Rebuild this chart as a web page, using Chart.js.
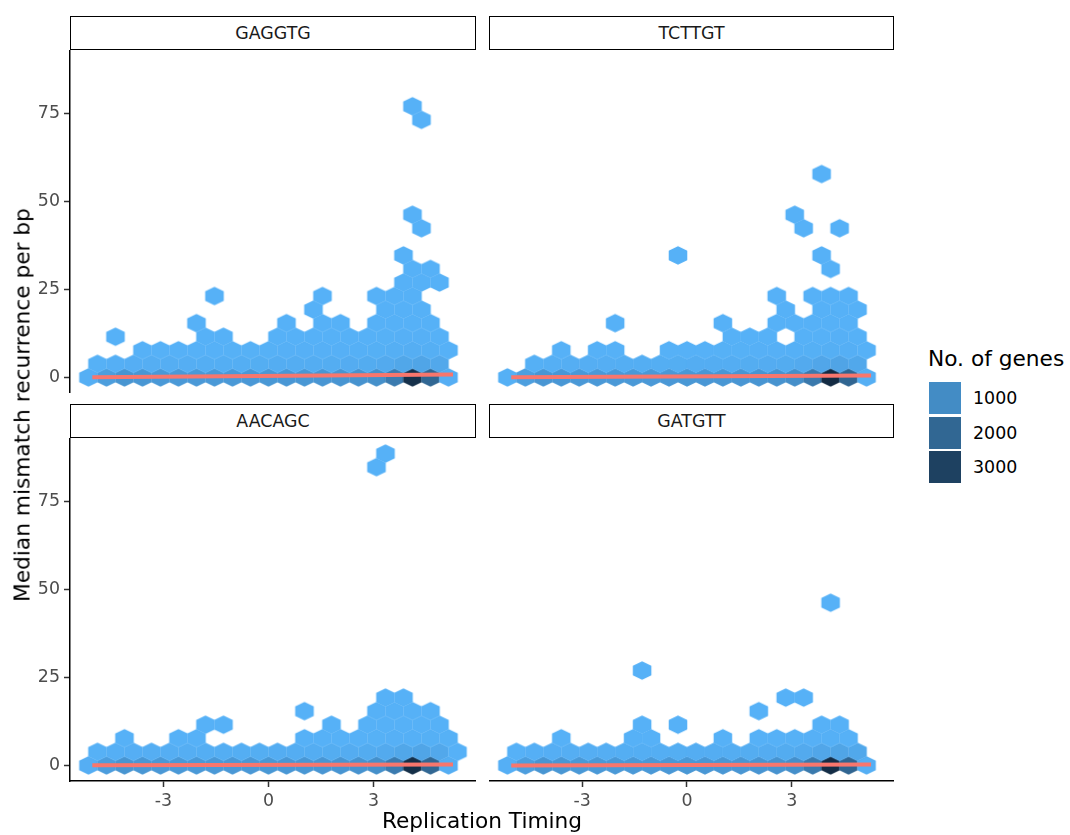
<!DOCTYPE html>
<html>
<head>
<meta charset="utf-8">
<script src="https://cdn.jsdelivr.net/npm/chart.js@4/dist/chart.umd.min.js"></script>
<style>
  html, body { margin: 0; padding: 0; background: #fff; }
  #fig { position: relative; width: 1070px; height: 835px; overflow: hidden;
         font-family: "DejaVu Sans", sans-serif; }
  canvas { position: absolute; }
  .strip { position: absolute; box-sizing: border-box; border: 1.5px solid #000; background: #fff;
           color: #1a1a1a; font-size: 17.4px; display: flex; align-items: center; justify-content: center; }
  .title { position: absolute; color: #000; font-size: 21.7px; white-space: nowrap; line-height: normal; }
  .key { position: absolute; width: 32px; height: 32px; }
  .keylab { position: absolute; height: 32px; display: flex; align-items: center; font-size: 17.4px; color: #000; }
</style>
</head>
<body>
<div id="fig">
  <div class="strip" style="left:70px;top:16px;width:406px;height:34px">GAGGTG</div>
  <div class="strip" style="left:489px;top:16px;width:405px;height:34px">TCTTGT</div>
  <div class="strip" style="left:70px;top:404px;width:406px;height:34px">AACAGC</div>
  <div class="strip" style="left:489px;top:404px;width:405px;height:34px">GATGTT</div>

  <canvas id="pGAGGTG" width="476" height="343" style="left:0px;top:50px"></canvas>
  <canvas id="pTCTTGT" width="405" height="343" style="left:489px;top:50px"></canvas>
  <canvas id="pAACAGC" width="476" height="388" style="left:0px;top:438px"></canvas>
  <canvas id="pGATGTT" width="405" height="388" style="left:489px;top:438px"></canvas>

  <div class="title" id="xTitle" style="left:482px;top:808px;transform:translateX(-50%)">Replication Timing</div>
  <div class="title" id="yTitle" style="left:22px;top:405px;transform:translate(-50%,-50%) rotate(-90deg)">Median mismatch recurrence per bp</div>
  <div id="legend"></div>
</div>

<script>
// Axis ticks and legend breaks
const xTicks = [-3, 0, 3];
const yTicks = [0, 25, 50, 75];
const legendBreaks = [1000, 2000, 3000];
const legendTitle = 'No. of genes';

// Hexagon bins, written as runs: [row, first column, gene counts of consecutive columns]
const gaggtgBins = [
  [0, -10, [60, 520, 760, 700, 650, 640, 640, 650, 650, 660, 680, 690, 700, 720, 740, 800, 900, 1450, 3450, 2000, 70]],
  [1, -10, [12, 45, 70, 75, 80, 80, 85, 90, 90, 95, 100, 105, 110, 115, 125, 140, 180, 280, 330, 240]],
  [2, -7, [4, 6, 8, 9, 10, 11, 12, 14, 16, 18, 20, 24, 30, 38, 55, 75, 60, 4]],
  [3, -9, [1]], [3, -4, [2, 2]], [3, 0, [3, 4, 5, 5, 6, 8, 12, 18, 22, 3]],
  [4, -4, [1]], [4, 1, [1]], [4, 3, [2, 2]], [4, 6, [3, 6, 8, 2]],
  [5, 2, [1]], [5, 6, [2, 3, 3]],
  [6, -3, [1]], [6, 3, [1]], [6, 6, [1, 2, 2]],
  [7, 7, [1, 2, 1]], [8, 8, [1, 1]], [9, 7, [1]],
  [11, 8, [1]], [12, 8, [1]], [19, 8, [1]], [20, 8, [1]]
];
const tcttgtBins = [
  [0, -10, [40, 480, 720, 690, 650, 640, 640, 650, 650, 660, 680, 690, 700, 720, 740, 800, 920, 1500, 3600, 2050, 60]],
  [1, -9, [40, 65, 75, 80, 80, 85, 90, 90, 95, 100, 105, 110, 115, 125, 140, 185, 290, 340, 250]],
  [2, -7, [2]], [2, -5, [2, 3]], [2, -1, [5, 8, 10, 12, 14, 16, 20, 30, 40, 60, 50, 5]],
  [3, 2, [3, 4, 5]], [3, 6, [6, 10, 15, 4]],
  [4, -4, [1]], [4, 2, [1]], [4, 5, [2, 3, 5, 6, 2]],
  [5, 5, [1]], [5, 7, [2, 3, 2]],
  [6, 5, [1]], [6, 7, [1, 2, 1]],
  [8, 8, [1]], [9, -1, [1]], [9, 7, [1]],
  [11, 6, [1]], [11, 8, [1]], [12, 6, [1]], [15, 7, [1]]
];
const aacagcBins = [
  [0, -10, [70, 530, 760, 700, 660, 650, 650, 650, 660, 660, 680, 690, 700, 720, 740, 800, 900, 1450, 3500, 2000, 80]],
  [1, -10, [12, 45, 70, 75, 80, 80, 85, 90, 90, 95, 100, 105, 110, 115, 125, 140, 180, 280, 330, 240, 3]],
  [2, -8, [2]], [2, -5, [2, 3]], [2, 2, [4, 6, 8, 10, 12, 16, 30, 40, 12]],
  [3, -4, [1, 1]], [3, 3, [2]], [3, 5, [3, 4, 6, 8, 3]],
  [4, 2, [1]], [4, 6, [1, 1, 2, 2]],
  [5, 6, [1, 1]],
  [22, 6, [1]], [23, 6, [1]]
];
const gatgttBins = [
  [0, -10, [50, 500, 740, 700, 650, 640, 640, 650, 650, 660, 680, 690, 700, 720, 740, 800, 910, 1480, 3550, 2050, 60]],
  [1, -10, [10, 45, 70, 75, 80, 80, 85, 90, 90, 95, 100, 105, 110, 115, 125, 140, 180, 285, 335, 245]],
  [2, -7, [2]], [2, -3, [2, 3]], [2, 2, [4]], [2, 4, [8, 10, 14, 20, 30, 8]],
  [3, -3, [1]], [3, -1, [1]], [3, 7, [2, 3]],
  [4, 4, [1]], [5, 5, [1, 1]], [7, -3, [1]], [12, 8, [1]]
];

// Linear trend per motif: [[x start, y start], [x end, y end]]
const gaggtgTrend = [[-5.03, 0.05], [5.27, 0.85]];
const tcttgtTrend = [[-5.03, 0.05], [5.27, 0.55]];
const aacagcTrend = [[-5.03, 0.05], [5.27, 0.25]];
const gatgttTrend = [[-5.03, 0.0], [5.27, 0.25]];

// Hexagon grid geometry (data units) and axis limits
const HEX_W = 0.514;
const HEX_R = 3.85;
const X_MIN = -5.667, X_MAX = 5.927;
const Y_MIN = -4.43, Y_MAX = 92.98;

// Fill gradient: few genes -> light blue, many genes -> dark navy
const LOW = [86, 177, 247], HIGH = [19, 43, 67], COUNT_MAX = 3600;
function fillFor(n) {
  const t = Math.min(1, Math.max(0, (n - 1) / (COUNT_MAX - 1)));
  const c = LOW.map((v, i) => Math.round(v + (HIGH[i] - v) * t));
  return `rgb(${c[0]},${c[1]},${c[2]})`;
}

function cellsFrom(runs) {
  const out = [];
  runs.forEach(([row, col0, counts]) => {
    counts.forEach((n, i) => {
      const col = col0 + i;
      out.push({ x: (col + (row % 2 ? 0.5 : 0)) * HEX_W, y: row * HEX_R, n });
    });
  });
  return out;
}

// Hexagon point images, sized from the chart's own scales
const hexCache = new Map();
function hexStyle(ctx) {
  if (!ctx.raw) return 'circle';
  const xs = ctx.chart.scales.x, ys = ctx.chart.scales.y;
  const w = Math.abs(xs.getPixelForValue(HEX_W) - xs.getPixelForValue(0));
  const r = Math.abs(ys.getPixelForValue(HEX_R) - ys.getPixelForValue(0));
  if (!isFinite(w) || !isFinite(r) || w <= 0 || r <= 0) return 'circle';
  const color = fillFor(ctx.raw.n);
  const key = color + '|' + w.toFixed(3) + '|' + r.toFixed(3);
  if (hexCache.has(key)) return hexCache.get(key);
  const cw = Math.ceil(w) + 4, ch = Math.ceil(r * 4 / 3) + 4;
  const c = document.createElement('canvas');
  c.width = cw; c.height = ch;
  const g = c.getContext('2d');
  g.translate(cw / 2, ch / 2);
  const hw = w / 2 + 0.3, tip = r * 2 / 3 + 0.3, side = r / 3 + 0.15;
  g.beginPath();
  g.moveTo(0, -tip); g.lineTo(hw, -side); g.lineTo(hw, side);
  g.lineTo(0, tip); g.lineTo(-hw, side); g.lineTo(-hw, -side);
  g.closePath();
  g.fillStyle = color;
  g.fill();
  hexCache.set(key, c);
  return c;
}

const FONT = { family: 'DejaVu Sans', size: 17.4 };

function axis(kind, shown, values, min, max) {
  return {
    type: 'linear', min, max, display: shown,
    afterBuildTicks: s => { s.ticks = values.map(v => ({ value: v })); },
    afterFit: s => {
      s.paddingTop = 0; s.paddingBottom = 0; s.paddingLeft = 0; s.paddingRight = 0;
      if (!shown) return;
      if (kind === 'x') s.height = 45; else s.width = 70;
    },
    border: { display: true, color: '#000', width: 1.5 },
    grid: { display: true, drawOnChartArea: false, drawTicks: true, tickLength: 6, tickColor: '#333', tickWidth: 1.5 },
    ticks: { color: '#4d4d4d', font: FONT, padding: 4, maxRotation: 0, autoSkip: false }
  };
}

function drawPanel(id, bins, trend, showX, showY) {
  new Chart(document.getElementById(id), {
    type: 'scatter',
    data: {
      datasets: [
        {
          type: 'scatter', order: 0, showLine: true,
          data: trend.map(([x, y]) => ({ x, y })),
          borderColor: '#F8766D', borderWidth: 4, borderCapStyle: 'butt',
          pointRadius: 0, fill: false
        },
        {
          type: 'scatter', order: 1,
          data: cellsFrom(bins),
          pointStyle: hexStyle, pointRadius: 9, borderWidth: 0
        }
      ]
    },
    options: {
      responsive: false, animation: false, devicePixelRatio: 1, events: [],
      layout: { padding: 0, autoPadding: false },
      plugins: { legend: { display: false }, tooltip: { enabled: false }, title: { display: false } },
      scales: {
        x: axis('x', showX, xTicks, X_MIN, X_MAX),
        y: axis('y', showY, yTicks, Y_MIN, Y_MAX)
      }
    }
  });
}

drawPanel('pGAGGTG', gaggtgBins, gaggtgTrend, false, true);
drawPanel('pTCTTGT', tcttgtBins, tcttgtTrend, false, false);
drawPanel('pAACAGC', aacagcBins, aacagcTrend, true, true);
drawPanel('pGATGTT', gatgttBins, gatgttTrend, true, false);

// Fill legend
const legend = document.getElementById('legend');
const lt = document.createElement('div');
lt.className = 'title';
lt.style.left = '928px'; lt.style.top = '346px';
lt.textContent = legendTitle;
legend.appendChild(lt);
legendBreaks.forEach((b, i) => {
  const top = 382 + i * 34.5;
  const k = document.createElement('div');
  k.className = 'key';
  k.style.left = '929px'; k.style.top = top + 'px';
  k.style.background = fillFor(b);
  legend.appendChild(k);
  const l = document.createElement('div');
  l.className = 'keylab';
  l.style.left = '973px'; l.style.top = top + 'px';
  l.textContent = String(b);
  legend.appendChild(l);
});
</script>
</body>
</html>
